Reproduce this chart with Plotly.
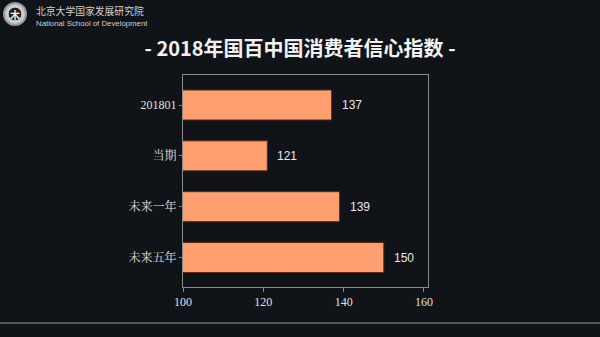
import plotly.graph_objects as go

categories = ["201801", "当期", "未来一年", "未来五年"]
values = [137, 121, 139, 150]
x_ticks = [100, 120, 140, 160]

BG = "#101317"
BAR = "#FF9E6E"
fig = go.Figure()
fig.add_trace(go.Bar(
    y=categories, x=values, orientation="h", base=0,
    marker=dict(color=BAR, line=dict(color="#5a2a14", width=1)),
    width=0.59, hoverinfo="skip",
))
for i, v in enumerate(values):
    fig.add_annotation(x=v, y=i, text=str(v), showarrow=False, xanchor="left",
                       xshift=8, font=dict(family="Liberation Sans, Arial", size=12, color="#e8e8e8"))

fig.update_layout(
    width=600, height=337,
    paper_bgcolor=BG, plot_bgcolor=BG,
    margin=dict(l=183, r=172, t=75, b=50),
    showlegend=False,
    title=dict(text="<b>- 2018年国百中国消费者信心指数 -</b>", x=0.5, xanchor="center",
               y=1 - 49 / 337, yanchor="middle",
               font=dict(family="Noto Sans CJK SC", size=20, color="#f2f2f2")),
    xaxis=dict(range=[100, 161], tickvals=x_ticks, showgrid=False, zeroline=False,
               showline=True, linecolor="#8a8a8a", linewidth=1, mirror=True,
               ticks="outside", ticklen=4, tickcolor="#8a8a8a",
               tickfont=dict(family="Liberation Serif, Noto Sans CJK SC", size=12, color="#e0e0e0")),
    yaxis=dict(type="category", range=[3.58, -0.59], showgrid=False, zeroline=False,
               showline=True, linecolor="#8a8a8a", linewidth=1, mirror=True,
               ticks="outside", ticklen=3, tickcolor="#8a8a8a",
               tickfont=dict(family="Liberation Serif, Noto Serif CJK SC, Noto Sans CJK SC", size=12, color="#e0e0e0")),
)

# logo
fig.add_shape(type="circle", xref="paper", yref="paper",
              x0=-179/245, x1=-157/245, y0=(287-25)/212, y1=(287-3)/212,
              line=dict(color="#9a9a9a", width=2), fillcolor="#c8c8c8")
fig.add_shape(type="circle", xref="paper", yref="paper",
              x0=-175/245, x1=-161/245, y0=(287-21)/212, y1=(287-7)/212,
              line=dict(color="#eeeeee", width=1), fillcolor="#222222")
fig.add_annotation(xref="paper", yref="paper", x=-168/245, y=(287-14)/212,
                   text="<b>木</b>", showarrow=False, xanchor="center", yanchor="middle",
                   font=dict(family="Noto Sans CJK SC", size=10, color="#eeeeee"))
fig.add_annotation(xref="paper", yref="paper", x=-149/245, y=(287-11)/212,
                   text="北京大学国家发展研究院", showarrow=False, xanchor="left", yanchor="middle",
                   font=dict(family="Noto Sans CJK SC", size=9.8, color="#d0d0d0"))
fig.add_annotation(xref="paper", yref="paper", x=-149/245, y=(287-23)/212,
                   text="National School of Development", showarrow=False, xanchor="left", yanchor="middle",
                   font=dict(family="Liberation Sans, Arial", size=7.8, color="#d0d0d0"))
# bottom line
fig.add_shape(type="line", xref="paper", yref="paper", x0=-183/245, x1=(600-183)/245,
              y0=-(323-287)/212, y1=-(323-287)/212, line=dict(color="#6a6d70", width=1.5))

fig.write_html("out.html")
